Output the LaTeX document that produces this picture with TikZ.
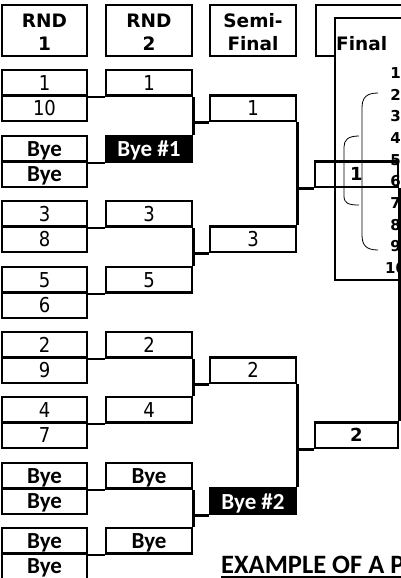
\documentclass[tikz,border=0pt]{standalone}
\usepackage{fontspec}
\setmainfont{DejaVu Sans}
\newfontfamily\numfont[FakeStretch=0.88]{DejaVu Sans}
\newfontfamily\calfont{Carlito}
\begin{document}
\begin{tikzpicture}[x=1pt,y=-1pt,
  cell/.style={draw, line width=2.6pt, minimum width=85pt, minimum height=25.5pt, inner sep=0pt,
    text depth=0pt, font=\numfont\fontsize{20.5}{20.5}\selectfont},
  byecell/.style={cell, font=\calfont\bfseries\fontsize{23}{23}\selectfont},
  blackcell/.style={byecell, fill=black, text=white},
  fincell/.style={cell, minimum width=83pt, font=\bfseries\fontsize{18}{18}\selectfont},
  hdrbox/.style={draw, line width=2.6pt, minimum width=85pt, minimum height=51pt, inner sep=0pt},
  hdrtext/.style={anchor=base, inner sep=0pt, font=\bfseries\fontsize{18.5}{18.5}\selectfont},
  listnum/.style={anchor=center, inner sep=0pt, text depth=0pt, font=\bfseries\fontsize{15}{15}\selectfont},
  ln/.style={line width=2.6pt},
  brace/.style={line width=0.8pt}]
\useasboundingbox (0,0) rectangle (401,578);
\clip (0,0) rectangle (401,578);

% headers
\node[hdrbox] (h1) at (44.5,30.5) {};
\node[hdrbox, minimum width=86pt] (h2) at (149,30.5) {};
\node[hdrbox, minimum width=86pt] (h3) at (253,30.5) {};
\node[hdrtext] (h1a) at (44.5,27.5) {RND};
\node[hdrtext] (h1b) at (44.5,50.5) {1};
\node[hdrtext] (h2a) at (149,27.5) {RND};
\node[hdrtext] (h2b) at (149,50.5) {2};
\node[hdrtext] (h3a) at (253,27.5) {Semi-};
\node[hdrtext] (h3b) at (253,50.5) {Final};
\coordinate (h4bl) at (316,56);
\coordinate (h4tl) at (316,5);
\coordinate (h4tr) at (405,5);
\coordinate (h4br) at (335,56);
\draw[ln] (h4br) -- (h4bl) -- (h4tl) -- (h4tr);
\node[hdrtext, anchor=base west] (h4a) at (336,50.5) {Final};

% final list box
\foreach \i in {1,...,10} {
  \node[listnum] (L\i) at (395.5,{73+21.67*(\i-1)}) {\i};
}
\coordinate (ibl) at (335,280);
\coordinate (itr) at (410,18);
\draw[ln] (ibl) rectangle (itr);
\draw[brace] (378,93) .. controls (366,93) and (362,98) .. (362,108) -- (362,235)
   .. controls (362,245) and (366,250) .. (378,250);
\draw[brace] (359,136) .. controls (348,136) and (344,140) .. (344,147) -- (344,196)
   .. controls (344,203) and (348,205) .. (359,205);

% round 1
\foreach \k/\t/\a/\b/\s in {1/70/1/10/cell, 3/201/3/8/cell, 4/267/5/6/cell, 5/332/2/9/cell, 6/397/4/7/cell,
   2/136/Bye/Bye/byecell, 7/463/Bye/Bye/byecell, 8/528/Bye/Bye/byecell} {
  \node[\s] (a\k t) at (44.5,{\t+12.75}) {\a};
  \node[\s] (a\k b) at (44.5,{\t+38.25}) {\b};
}
% round 2
\foreach \k/\t/\a/\s in {1/70/1/cell, 3/201/3/cell, 4/267/5/cell, 5/332/2/cell, 6/397/4/cell,
   2/136/Bye \#1/blackcell, 7/463/Bye/byecell, 8/528/Bye/byecell} {
  \node[\s, minimum width=86pt] (b\k) at (149,{\t+12.75}) {\a};
  \draw[ln] (a\k t.south east) -- (b\k.south west);
}
% semi-finals
\node[cell, minimum width=86pt] (s1) at (253,108.25) {1};
\node[cell, minimum width=86pt] (s2) at (253,239.25) {3};
\node[cell, minimum width=86pt] (s3) at (253,370.25) {2};
\node[blackcell, minimum width=86pt] (s4) at (253,501.25) {Bye \#2};
\foreach \u/\v/\s in {1/2/1, 3/4/2, 5/6/3, 7/8/4} {
  \draw[ln] (b\u.south east) -- (b\v.north east);
  \draw[ln] (b\u.east |- s\s.south) -- (s\s.south west);
}
% final
\node[fincell] (f1) at (356.5,174.25) {1};
\node[fincell] (f2) at (356.5,435.25) {2};
\draw[ln] (s1.south east) -- (s2.north east);
\draw[ln] (s1.east |- f1.south) -- (f1.south west);
\draw[ln] (s3.south east) -- (s4.north east);
\draw[ln] (s3.east |- f2.south) -- (f2.south west);
\draw[ln] (f1.south east) -- (f2.north east);

% caption
\node[anchor=base west, inner sep=0pt, font=\calfont\bfseries\fontsize{26.5}{26.5}\selectfont] (cap) at (221,573) {EXAMPLE OF A P};
\coordinate (ul1) at (221,577);
\coordinate (ul2) at (405,577);
\draw[line width=1.8pt] (ul1) -- (ul2);
\end{tikzpicture}
\end{document}
